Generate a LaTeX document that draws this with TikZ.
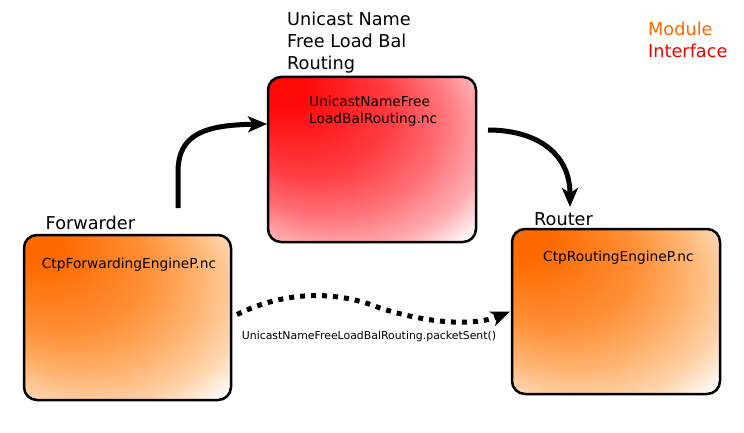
\documentclass[tikz,border=0pt]{standalone}
\usepackage{fontspec}
\setmainfont{DejaVu Sans}
\usetikzlibrary{arrows.meta}
\definecolor{orA}{RGB}{255,106,0}
\definecolor{orB}{RGB}{255,144,56}
\definecolor{orC}{RGB}{255,178,110}
\definecolor{orD}{RGB}{255,212,172}
\definecolor{rdA}{RGB}{255,8,8}
\definecolor{rdB}{RGB}{255,62,68}
\definecolor{rdC}{RGB}{255,114,120}
\definecolor{rdD}{RGB}{255,174,179}
\definecolor{modorange}{RGB}{255,102,0}
\definecolor{modred}{RGB}{240,0,0}
\pgfdeclareradialshading{orangeshade}{\pgfqpoint{-25bp}{25bp}}{color(0bp)=(orA); color(6bp)=(orA); color(20bp)=(orB); color(28bp)=(orC); color(35bp)=(orD); color(40.5bp)=(white); color(50bp)=(white)}
\pgfdeclareradialshading{redshade}{\pgfqpoint{-25bp}{25bp}}{color(0bp)=(rdA); color(6bp)=(rdA); color(20bp)=(rdB); color(28bp)=(rdC); color(35bp)=(rdD); color(40.5bp)=(white); color(50bp)=(white)}
\tikzset{
  box/.style={draw=black, line width=2.5pt, rounded corners=13pt, inner sep=0pt, outer sep=0pt,
    minimum width=207pt, minimum height=165pt},
  bigtxt/.style={anchor=base west, inner sep=0pt, font=\fontsize{17.7}{22}\selectfont},
  midtxt/.style={anchor=base west, inner sep=0pt, font=\fontsize{13.75}{17}\selectfont},
  smalltxt/.style={anchor=base west, inner sep=0pt, font=\fontsize{10.9}{13}\selectfont},
  conn/.style={line width=5pt, -{Stealth[length=19pt, width=16pt, inset=5pt]}},
  dotconn/.style={line width=5pt, dash pattern=on 5pt off 6pt, -{Stealth[length=19pt, width=15pt, inset=5pt]}}
}
\begin{document}
\begin{tikzpicture}[x=1pt, y=-1pt]
\fill[white] (0,0) rectangle (744,433);
\useasboundingbox (0,0) rectangle (744,433);
% boxes
\node[box, shading=orangeshade] (fwd) at (127.5,317.5) {};
\node[box, shading=redshade, minimum width=208pt] (red) at (372,159.5) {};
\node[box, shading=orangeshade, minimum width=208pt] (rtr) at (616,311.5) {};
% titles
\node[bigtxt] (fwdlbl) at (45.5,229) {Forwarder};
\node[bigtxt] (ttl1) at (287,26) {Unicast Name};
\node[bigtxt] (ttl2) at (287,48) {Free Load Bal};
\node[bigtxt] (ttl3) at (287,70) {Routing};
\node[bigtxt] (rtrlbl) at (534,225) {Router};
\node[bigtxt, text=modorange] (modl) at (648,36) {Module};
\node[bigtxt, text=modred] (intf) at (648,58) {Interface};
% inner texts
\node[midtxt] (fwdtxt) at (41.7,268) {CtpForwardingEngineP.nc};
\node[midtxt] (redtxt1) at (309,107) {UnicastNameFree};
\node[midtxt] (redtxt2) at (309,124) {LoadBalRouting.nc};
\node[midtxt] (rtrtxt) at (543,261) {CtpRoutingEngineP.nc};
\node[smalltxt] (pkt) at (241.7,339.5) {UnicastNameFreeLoadBalRouting.packetSent()};
% connectors
\draw[conn] ([xshift=50.5pt,yshift=27pt]fwd.north) -- ++(0,-36)
   .. controls +(0,-38) and (205,125) .. ([xshift=-1pt,yshift=35.5pt]red.west);
\draw[conn] ([xshift=12pt,yshift=29.5pt]red.east)
   .. controls (535,130) and (570,152) .. ([xshift=-46pt,yshift=22pt]rtr.north);
\draw[dotconn] ([xshift=6pt,yshift=3pt]fwd.east)
   .. controls (285,291) and (335,290) .. (380,308)
   .. controls (430,324) and (475,326) .. ([xshift=-2pt]rtr.west);
\end{tikzpicture}
\end{document}
